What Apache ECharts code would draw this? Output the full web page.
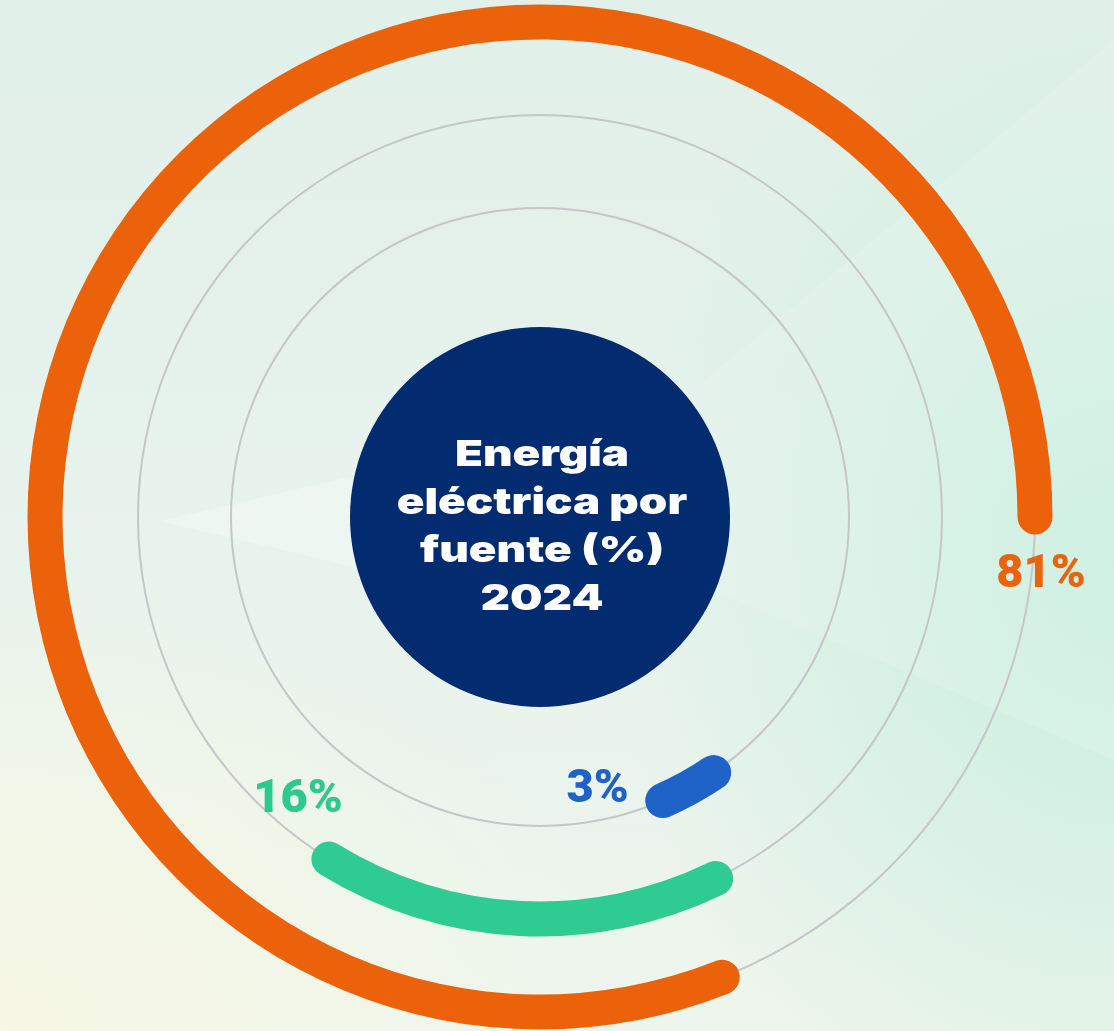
<!DOCTYPE html>
<html lang="es">
<head>
<meta charset="utf-8">
<title>Energía eléctrica por fuente (%) 2024</title>
<script src="https://cdn.jsdelivr.net/npm/echarts@6/dist/echarts.min.js"></script>
<style>
  html, body { margin: 0; padding: 0; width: 1114px; height: 1031px; overflow: hidden; }
  body {
    background:
      radial-gradient(ellipse 45% 60% at 100% 55%, rgba(198, 238, 222, 0.95), rgba(198, 238, 222, 0) 100%),
      radial-gradient(ellipse 55% 45% at 0% 100%, rgba(246, 247, 228, 1), rgba(246, 247, 228, 0) 100%),
      linear-gradient(180deg, #e1f0e9 0%, #e8f3ed 55%, #eef5ec 100%);
  }
  #chart { width: 1114px; height: 1031px; }
</style>
</head>
<body>
<div id="chart"></div>
<script>
// ---- data (rings listed from the inside out) ----
const sources = ['Fuente 1', 'Fuente 2', 'Fuente 3'];
const shares = [3, 16, 81];
const titleLines = ['Energía', 'eléctrica por', 'fuente (%)', '2024'];

// ---- layout ----
const CENTER = [540, 517];
const RING_BAND = [262.5, 541.5];      // inner / outer radius of the ring area
const RING_WIDTH = 35;
const DISC_RADIUS = 190;
const arcStart = [81.5, 66.2, 0];       // where each arc begins, in % of a full turn
const labelAt = [78.3, 63.75, -1.78];   // angular anchor of each percentage label
const labelOffset = [[-6, -29], [19, -22], [9, 3]];
const colors = ['#1f63c8', '#2ecb93', '#eb620b'];
const labelColors = ['#2162c6', '#2fc98f', '#e9640c'];

const chart = echarts.init(document.getElementById('chart'), null, { renderer: 'canvas' });

const angleAxisBase = { type: 'value', min: 0, max: 100, startAngle: 0, clockwise: false, show: false };
const radiusAxisBase = { type: 'category', data: sources, show: false };

const option = {
  backgroundColor: 'transparent',
  animation: false,
  polar: [
    { center: CENTER, radius: RING_BAND },
    { center: CENTER, radius: RING_BAND }
  ],
  angleAxis: [
    Object.assign({ polarIndex: 0 }, angleAxisBase),
    Object.assign({ polarIndex: 1 }, angleAxisBase)
  ],
  radiusAxis: [
    Object.assign({ polarIndex: 0 }, radiusAxisBase),
    Object.assign({ polarIndex: 1 }, radiusAxisBase)
  ],
  graphic: [
    // soft light rays in the background
    {
      type: 'polygon', silent: true, z: 0,
      shape: { points: [[160, 521], [560, 428], [560, 616]] },
      style: { fill: 'rgba(255,255,255,0.28)' }
    },
    {
      type: 'polygon', silent: true, z: 0,
      shape: { points: [[540, 517], [1114, 40], [1114, 760]] },
      style: { fill: 'rgba(255,255,255,0.13)' }
    },
    // title inside the navy disc
    {
      type: 'text', silent: true, z: 100,
      x: CENTER[0] + 2,
      y: CENTER[1] + 10,
      scaleX: 1.27,
      style: {
        text: titleLines.join('\n'),
        fill: '#ffffff',
        fontFamily: 'Inter',
        fontWeight: 900,
        fontSize: 36,
        lineHeight: 48,
        align: 'center',
        verticalAlign: 'middle'
      }
    }
  ],
  series: [
    // thin grey guide circles
    {
      type: 'bar', coordinateSystem: 'polar', polarIndex: 1,
      data: sources.map(() => 100),
      barWidth: 2,
      itemStyle: { color: '#c5c6c8' },
      silent: true, z: 1
    },
    // invisible spacer that sets where each arc starts
    {
      type: 'bar', coordinateSystem: 'polar', polarIndex: 0, stack: 'ring',
      data: arcStart,
      barWidth: RING_WIDTH,
      itemStyle: { color: 'rgba(0,0,0,0)' },
      silent: true, z: 2
    },
    // the share arcs
    {
      type: 'bar', coordinateSystem: 'polar', polarIndex: 0, stack: 'ring',
      roundCap: true,
      barWidth: RING_WIDTH,
      data: shares.map((v, i) => ({ value: v, itemStyle: { color: colors[i] } })),
      silent: true, z: 3
    },
    // percentage labels
    {
      type: 'scatter', coordinateSystem: 'polar', polarIndex: 0,
      symbolSize: 1,
      itemStyle: { color: 'rgba(0,0,0,0)', opacity: 1 },
      silent: true, z: 4,
      data: shares.map((v, i) => ({
        value: [sources[i], labelAt[i]],
        label: { color: labelColors[i], offset: labelOffset[i] }
      })),
      label: {
        show: true,
        position: 'inside',
        formatter: p => shares[p.dataIndex] + '%',
        fontFamily: 'Roboto',
        fontWeight: 900,
        fontSize: 47
      }
    },
    // navy disc behind the title
    {
      type: 'pie',
      center: CENTER,
      radius: [0, DISC_RADIUS],
      silent: true,
      z: 3,
      data: [{ value: 1, name: 'disc' }],
      itemStyle: { color: '#032b70' },
      label: { show: false },
      labelLine: { show: false },
      emphasis: { disabled: true }
    }
  ]
};

chart.setOption(option);
</script>
</body>
</html>
